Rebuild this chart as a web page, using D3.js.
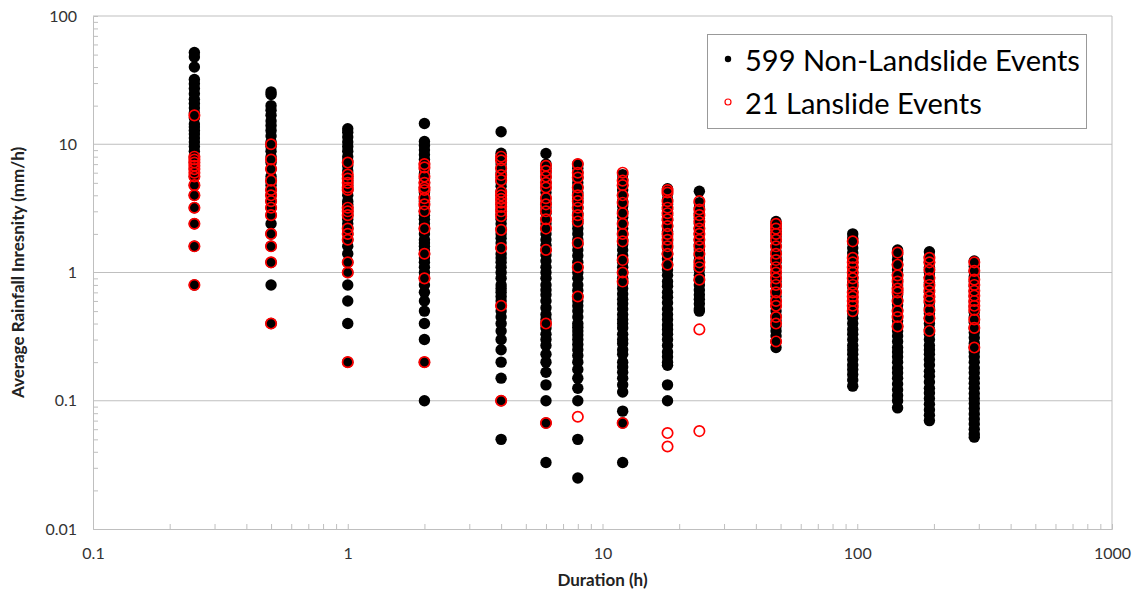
<!DOCTYPE html>
<html lang="en">
<head>
<meta charset="UTF-8">
<title>Rainfall intensity vs duration</title>
<script src="https://d3js.org/d3.v7.min.js"></script>
<style>
  body { margin: 0; background: #fff; }
  svg { display: block; font-family: Lato, "Open Sans", sans-serif; }
</style>
</head>
<body>
<svg width="1137" height="592"></svg>
<script>
// durations (h) for each column
const durations = [0.25, 0.5, 1, 2, 4, 6, 8, 12, 18, 24, 48, 96, 144, 192, 288];

// non-landslide events (black dots), one list per duration
const nonLandslide = [
  [52, 48, 40, 32, 29.6, 27.2, 24.8, 22.4, 20.8, 19.2, 17.6, 16, 14.4, 13.6, 12.8, 12, 11.2, 10.4, 9.6, 8.8, 8, 7.2, 6.4, 5.6, 4.8, 4, 3.2, 2.4, 1.6, 0.8],
  [25.6, 24.4, 20, 18.4, 16.8, 15.2, 14, 12.8, 11.6, 10.4, 9.6, 8.8, 8, 7.2, 6.4, 5.6, 5.2, 4.8, 4.4, 4, 3.6, 3.2, 2.8, 2.4, 2, 1.6, 1.2, 0.8, 0.4],
  [13.2, 12.4, 11.4, 10.4, 9.6, 8.8, 8, 7.4, 6.8, 6.2, 5.6, 5.2, 4.8, 4.4, 4, 3.6, 3.4, 3.2, 3, 2.8, 2.6, 2.4, 2.2, 2, 1.8, 1.6, 1.4, 1.2, 1, 0.8, 0.6, 0.4, 0.2],
  [14.5, 10.5, 9.8, 9, 8.3, 7.6, 7, 6.4, 5.9, 5.4, 5, 4.6, 4.2, 3.9, 3.6, 3.3, 3, 2.8, 2.6, 2.4, 2.2, 2, 1.8, 1.7, 1.6, 1.5, 1.4, 1.3, 1.2, 1.1, 1, 0.9, 0.8, 0.7, 0.6, 0.5, 0.4, 0.3, 0.2, 0.1],
  [12.5, 8.5, 8, 7.5, 7, 6.5, 6, 5.5, 5.1, 4.7, 4.3, 4, 3.7, 3.4, 3.1, 2.85, 2.6, 2.4, 2.2, 2, 1.85, 1.7, 1.55, 1.4, 1.3, 1.2, 1.1, 1, 0.9, 0.8, 0.75, 0.7, 0.65, 0.6, 0.55, 0.5, 0.45, 0.4, 0.35, 0.3, 0.25, 0.2, 0.15, 0.1, 0.05],
  [8.47, 7, 6.5, 6, 5.5, 5, 4.6, 4.2, 3.8, 3.5, 3.2, 2.9, 2.6, 2.4, 2.2, 2, 1.8, 1.63, 1.5, 1.37, 1.23, 1.1, 1, 0.9, 0.8, 0.73, 0.67, 0.6, 0.53, 0.47, 0.43, 0.4, 0.37, 0.33, 0.3, 0.27, 0.23, 0.2, 0.167, 0.133, 0.1, 0.067, 0.033],
  [7, 6.5, 6, 5.5, 5, 4.6, 4.2, 3.8, 3.5, 3.2, 2.9, 2.6, 2.4, 2.2, 2, 1.8, 1.65, 1.5, 1.35, 1.2, 1.1, 1, 0.9, 0.8, 0.725, 0.65, 0.6, 0.55, 0.5, 0.45, 0.4, 0.375, 0.35, 0.325, 0.3, 0.275, 0.25, 0.225, 0.2, 0.175, 0.15, 0.125, 0.1, 0.05, 0.025],
  [5.8, 5.3, 4.8, 4.4, 4, 3.6, 3.3, 3, 2.7, 2.45, 2.2, 2, 1.8, 1.65, 1.5, 1.35, 1.2, 1.1, 1, 0.9, 0.82, 0.75, 0.68, 0.62, 0.57, 0.52, 0.47, 0.43, 0.4, 0.37, 0.33, 0.3, 0.28, 0.25, 0.23, 0.2, 0.183, 0.167, 0.15, 0.133, 0.117, 0.083, 0.067, 0.033],
  [4.5, 4.1, 3.7, 3.4, 3.1, 2.8, 2.55, 2.3, 2.1, 1.9, 1.7, 1.55, 1.4, 1.28, 1.15, 1.05, 0.95, 0.85, 0.78, 0.7, 0.64, 0.58, 0.52, 0.47, 0.43, 0.39, 0.36, 0.33, 0.3, 0.27, 0.24, 0.22, 0.2, 0.189, 0.133, 0.1],
  [4.3, 3.5, 3.2, 2.9, 2.65, 2.4, 2.2, 2, 1.8, 1.65, 1.5, 1.35, 1.25, 1.15, 1.05, 0.95, 0.87, 0.8, 0.73, 0.67, 0.62, 0.57, 0.52, 0.5],
  [2.5, 2.3, 2.1, 1.9, 1.75, 1.6, 1.45, 1.3, 1.2, 1.1, 1, 0.92, 0.85, 0.78, 0.71, 0.65, 0.6, 0.55, 0.5, 0.46, 0.42, 0.38, 0.35, 0.32, 0.29, 0.26],
  [2, 1.85, 1.7, 1.55, 1.42, 1.3, 1.2, 1.1, 1, 0.92, 0.84, 0.77, 0.7, 0.64, 0.58, 0.53, 0.48, 0.44, 0.4, 0.36, 0.33, 0.3, 0.27, 0.25, 0.23, 0.21, 0.19, 0.175, 0.16, 0.145, 0.13],
  [1.5, 1.38, 1.26, 1.15, 1.05, 0.96, 0.88, 0.8, 0.73, 0.67, 0.61, 0.56, 0.51, 0.46, 0.42, 0.38, 0.35, 0.32, 0.29, 0.26, 0.24, 0.22, 0.2, 0.18, 0.165, 0.15, 0.135, 0.122, 0.11, 0.1, 0.088],
  [1.45, 1.32, 1.2, 1.1, 1, 0.92, 0.84, 0.77, 0.7, 0.64, 0.58, 0.53, 0.48, 0.44, 0.4, 0.36, 0.33, 0.3, 0.27, 0.25, 0.23, 0.21, 0.19, 0.17, 0.155, 0.14, 0.125, 0.115, 0.104, 0.094, 0.085, 0.077, 0.07],
  [1.23, 1.12, 1.02, 0.93, 0.85, 0.78, 0.71, 0.65, 0.59, 0.54, 0.49, 0.45, 0.41, 0.37, 0.34, 0.31, 0.28, 0.26, 0.24, 0.22, 0.2, 0.18, 0.165, 0.15, 0.137, 0.125, 0.114, 0.104, 0.095, 0.087, 0.079, 0.072, 0.066, 0.06, 0.055, 0.052]
];

// landslide events (red open circles), one list per duration
const landslide = [
  [16.8, 8, 7.6, 7.2, 6.8, 6.4, 6, 5.6, 4.8, 4, 3.2, 2.4, 1.6, 0.8],
  [10, 7.6, 6.4, 5.2, 4.4, 4, 3.6, 3.2, 2.8, 2, 1.6, 1.2, 0.4],
  [7.2, 5.8, 5.4, 5, 4.6, 4.4, 3.2, 3, 2.8, 2.2, 2, 1.8, 1.2, 1, 0.2],
  [7, 6.6, 5.6, 5, 4.6, 4.4, 3.8, 3.4, 3, 2.2, 1.4, 0.9, 0.2],
  [8, 7.5, 6.5, 5.75, 5.25, 4.25, 4, 3.75, 3.5, 3.25, 3, 2.75, 2.15, 1.55, 0.55, 0.1],
  [6.8, 6.2, 5.6, 5, 4.6, 3.8, 3.4, 3, 2.6, 2.2, 1.5, 0.4, 0.067],
  [7, 6, 5.5, 4.6, 4, 3.6, 3.2, 2.8, 2.5, 1.7, 1.1, 0.65, 0.075],
  [6, 5.2, 4.8, 4, 3.5, 2.9, 2.4, 2, 1.75, 1.25, 1, 0.85, 0.067],
  [4.4, 4.2, 3.6, 3.2, 2.9, 2.6, 2.3, 2, 1.8, 1.6, 1.4, 1.15, 0.056, 0.044],
  [3.6, 3.1, 2.8, 2.5, 2.2, 2, 1.8, 1.6, 1.4, 1.2, 1.1, 0.88, 0.36, 0.058],
  [2.4, 2.2, 2, 1.8, 1.6, 1.4, 1.25, 1.1, 1, 0.9, 0.8, 0.7, 0.6, 0.55, 0.45, 0.4, 0.29],
  [1.75, 1.3, 1.2, 1.1, 1, 0.9, 0.8, 0.7, 0.65, 0.6, 0.55, 0.5],
  [1.43, 1.15, 0.95, 0.85, 0.75, 0.7, 0.6, 0.5, 0.45, 0.38],
  [1.3, 1.2, 1.05, 0.9, 0.8, 0.72, 0.65, 0.6, 0.51, 0.44, 0.35],
  [1.2, 1.03, 0.88, 0.8, 0.72, 0.66, 0.6, 0.55, 0.51, 0.43, 0.37, 0.26]
];

const xMajor = [0.1, 1, 10, 100, 1000];
const yMajor = [0.01, 0.1, 1, 10, 100];
const legendLabels = ["599 Non-Landslide Events", "21 Lanslide Events"];
const xTitle = "Duration (h)";
const yTitle = "Average Rainfall Inresnity (mm/h)";

const svg = d3.select("svg");
const plotLeft = 93, plotRight = 1112, plotTop = 16, plotBottom = 529;
const gridColor = "#bfbfbf";

const x = d3.scaleLog().domain([0.1, 1000]).range([plotLeft, plotRight]);
const y = d3.scaleLog().domain([0.01, 100]).range([plotBottom, plotTop]);

// minor ticks at 2..9 of each decade
function minorTicks(domain) {
  const out = [];
  for (let e = Math.log10(domain[0]); e < Math.log10(domain[1]); e++) {
    for (let k = 2; k <= 9; k++) out.push(k * Math.pow(10, e));
  }
  return out;
}

// horizontal gridlines
svg.append("g")
  .selectAll("line")
  .data(yMajor.slice(1))
  .enter().append("line")
  .attr("x1", plotLeft).attr("x2", plotRight)
  .attr("y1", d => y(d)).attr("y2", d => y(d))
  .attr("stroke", gridColor).attr("stroke-width", 1);

// right border
svg.append("line")
  .attr("x1", plotRight).attr("x2", plotRight)
  .attr("y1", plotTop).attr("y2", plotBottom)
  .attr("stroke", gridColor);

// x axis ticks (inside)
const xTickAxis = svg.append("g")
  .attr("transform", `translate(0,${plotBottom})`)
  .call(d3.axisBottom(x).tickValues(xMajor.concat(minorTicks(x.domain()))).tickSize(-5).tickFormat(""));
xTickAxis.selectAll("line").attr("stroke", gridColor);
xTickAxis.select(".domain").attr("stroke", gridColor);

const xLabelAxis = svg.append("g")
  .attr("transform", `translate(0,${plotBottom})`)
  .call(d3.axisBottom(x).tickValues(xMajor).tickSize(0).tickPadding(19).tickFormat(d3.format("~g")));
xLabelAxis.select(".domain").remove();
xLabelAxis.selectAll("text").attr("font-size", 16).attr("fill", "#333").attr("font-family", "Lato, sans-serif");

// y axis ticks (inside)
const yTickAxis = svg.append("g")
  .attr("transform", `translate(${plotLeft},0)`)
  .call(d3.axisLeft(y).tickValues(minorTicks(y.domain())).tickSize(-5).tickFormat(""));
yTickAxis.selectAll("line").attr("stroke", gridColor);
yTickAxis.select(".domain").attr("stroke", gridColor);

const yLabelAxis = svg.append("g")
  .attr("transform", `translate(${plotLeft},0)`)
  .call(d3.axisLeft(y).tickValues(yMajor).tickSize(0).tickPadding(16).tickFormat(d3.format("~g")));
yLabelAxis.select(".domain").remove();
yLabelAxis.selectAll("text").attr("font-size", 16).attr("fill", "#333").attr("font-family", "Lato, sans-serif");

// points
const blackPts = [], redPts = [];
durations.forEach((d, i) => {
  nonLandslide[i].forEach(v => blackPts.push([d, v]));
  landslide[i].forEach(v => redPts.push([d, v]));
});

svg.append("g")
  .selectAll("circle")
  .data(blackPts)
  .enter().append("circle")
  .attr("cx", d => x(d[0])).attr("cy", d => y(d[1]))
  .attr("r", 5.7)
  .attr("fill", "#000");

svg.append("g")
  .selectAll("circle")
  .data(redPts)
  .enter().append("circle")
  .attr("cx", d => x(d[0])).attr("cy", d => y(d[1]))
  .attr("r", 5.2)
  .attr("fill", "none")
  .attr("stroke", "#ff0000")
  .attr("stroke-width", 1.7);

// axis titles
svg.append("text")
  .attr("x", (plotLeft + plotRight) / 2).attr("y", 586)
  .attr("text-anchor", "middle")
  .attr("font-size", 17).attr("font-weight", "bold").attr("fill", "#222")
  .text(xTitle);

svg.append("text")
  .attr("transform", `translate(24,${(plotTop + plotBottom) / 2}) rotate(-90)`)
  .attr("text-anchor", "middle")
  .attr("font-size", 17).attr("font-weight", "bold").attr("fill", "#222")
  .text(yTitle);

// legend
const legend = svg.append("g");
legend.append("rect")
  .attr("x", 707.5).attr("y", 34.5).attr("width", 379).attr("height", 94)
  .attr("fill", "#fff").attr("stroke", "#999");

legendLabels.forEach((label, i) => {
  const cy = 59 + i * 43;
  if (i === 0) {
    legend.append("circle").attr("cx", 728).attr("cy", cy).attr("r", 3.2).attr("fill", "#000");
  } else {
    legend.append("circle").attr("cx", 728).attr("cy", cy).attr("r", 3)
      .attr("fill", "none").attr("stroke", "#ff0000").attr("stroke-width", 1.2);
  }
  legend.append("text")
    .attr("x", 745).attr("y", cy)
    .attr("dominant-baseline", "central")
    .attr("font-size", 29).attr("fill", "#000")
    .text(label);
});
</script>
</body>
</html>
